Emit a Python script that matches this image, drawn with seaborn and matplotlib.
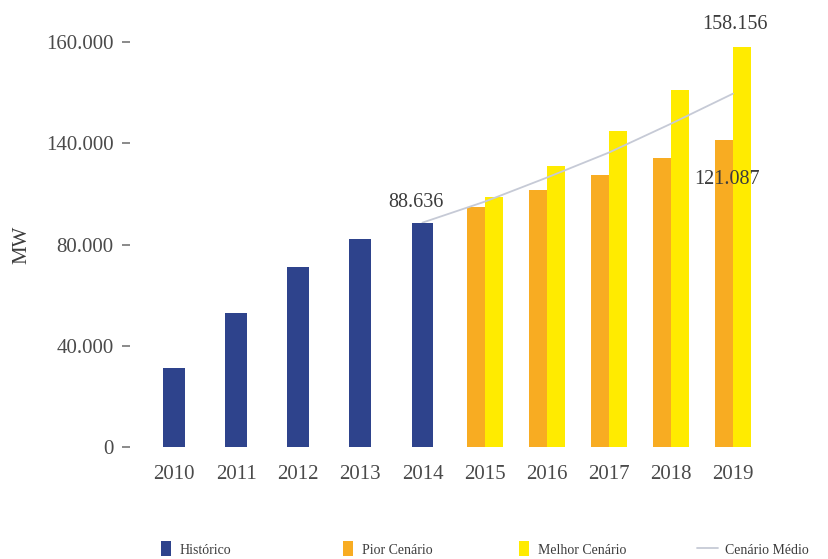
import matplotlib
matplotlib.use("Agg")
import matplotlib.pyplot as plt
from matplotlib.patches import Patch
from matplotlib.lines import Line2D
import seaborn as sns
import pandas as pd

# --- data -------------------------------------------------------------
years = ["2010", "2011", "2012", "2013", "2014",
         "2015", "2016", "2017", "2018", "2019"]

hist_years = ["2010", "2011", "2012", "2013", "2014"]
hist_mw = [31200, 53000, 71100, 82200, 88636]

proj_years = ["2015", "2016", "2017", "2018", "2019"]
pior_mw = [94900, 101600, 107500, 114300, 121087]
melhor_mw = [98900, 111100, 125000, 141100, 158156]

medio_years = ["2014", "2015", "2016", "2017", "2018", "2019"]
medio_mw = [88636, 96900, 106400, 116300, 127700, 139600]

y_ticks = [0, 40000, 80000, 120000, 160000]
y_tick_labels = ["0", "40.000", "80.000", "140.000", "160.000"]

series_names = ["Histórico", "Pior Cenário", "Melhor Cenário", "Cenário Médio"]

# --- style ------------------------------------------------------------
NAVY = "#2E438C"
ORANGE = "#F8AC22"
YELLOW = "#FFEB00"
LINE = "#C6CAD6"
TXT = "#3C3C3C"

sns.set_theme(style="white")
plt.rcParams["font.family"] = ["Liberation Serif", "DejaVu Serif"]

fig = plt.figure(figsize=(8.29, 5.59), dpi=100)
ax = fig.add_axes([130.5 / 829, 1 - 447 / 559, 646 / 829, 405 / 559])

df_hist = pd.DataFrame({"ano": hist_years, "MW": hist_mw})
df_proj = pd.DataFrame({
    "ano": proj_years * 2,
    "MW": pior_mw + melhor_mw,
    "cenario": [series_names[1]] * len(proj_years) + [series_names[2]] * len(proj_years),
})

sns.barplot(data=df_hist, x="ano", y="MW", order=years, color=NAVY,
            width=0.35, saturation=1, ax=ax, zorder=3, legend=False,
            edgecolor="none", linewidth=0)
sns.barplot(data=df_proj, x="ano", y="MW", hue="cenario", order=years,
            hue_order=series_names[1:3], palette=[ORANGE, YELLOW],
            width=0.58, saturation=1, ax=ax, zorder=2, legend=False,
            edgecolor="none", linewidth=0)

df_medio = pd.DataFrame({"pos": [years.index(y) for y in medio_years],
                         "MW": medio_mw})
sns.lineplot(data=df_medio, x="pos", y="MW", color=LINE, linewidth=1.3,
             ax=ax, zorder=2.5)

# value labels
def fmt(v):
    return f"{v:,}".replace(",", ".")

ax.annotate(fmt(hist_mw[-1]), (years.index("2014") - 0.1, hist_mw[-1]),
            xytext=(0, 8), textcoords="offset points", ha="center", va="bottom",
            fontsize=14.5, color=TXT, annotation_clip=False)
ax.annotate(fmt(melhor_mw[-1]), (years.index("2019") + 0.03, melhor_mw[-1]),
            xytext=(0, 9), textcoords="offset points", ha="center", va="bottom",
            fontsize=14.5, color=TXT, annotation_clip=False)
ax.annotate(fmt(pior_mw[-1]), (years.index("2019") - 0.1, pior_mw[-1]),
            xytext=(0, -21), textcoords="offset points", ha="center", va="top",
            fontsize=14.5, color=TXT, annotation_clip=False, zorder=5)

# axes
ax.set_xlim(-0.7, 9.7)
ax.set_ylim(0, 160000)
ax.set_yticks(y_ticks)
ax.set_yticklabels(y_tick_labels)
ax.set_xlabel("")
ax.set_ylabel("MW", fontsize=15, color=TXT, labelpad=11)
for s in ax.spines.values():
    s.set_visible(False)
ax.tick_params(axis="y", which="both", left=True, length=6, width=1.4,
               color="#8A8A8A", pad=6, labelsize=15, labelcolor="#4A4A4A")
ax.tick_params(axis="x", length=0, pad=13, labelsize=15, labelcolor="#4A4A4A")
ax.grid(False)

# legend entries laid out along the bottom
legend_specs = [
    (Patch(facecolor=NAVY, edgecolor="none"), series_names[0], 161),
    (Patch(facecolor=ORANGE, edgecolor="none"), series_names[1], 343),
    (Patch(facecolor=YELLOW, edgecolor="none"), series_names[2], 519),
    (Line2D([], [], color=LINE, linewidth=1.3), series_names[3], 697),
]
for handle, label, xpx in legend_specs:
    is_line = isinstance(handle, Line2D)
    fig.legend(handles=[handle], labels=[label], loc="center left",
               bbox_to_anchor=(xpx / 829, 1 - 549 / 559), frameon=False,
               fontsize=10, labelcolor=TXT,
               handlelength=1.5 if is_line else 0.75,
               handleheight=1.25, handletextpad=0.5 if is_line else 0.6,
               borderpad=0, borderaxespad=0)

fig.savefig("out.png", dpi=100)
